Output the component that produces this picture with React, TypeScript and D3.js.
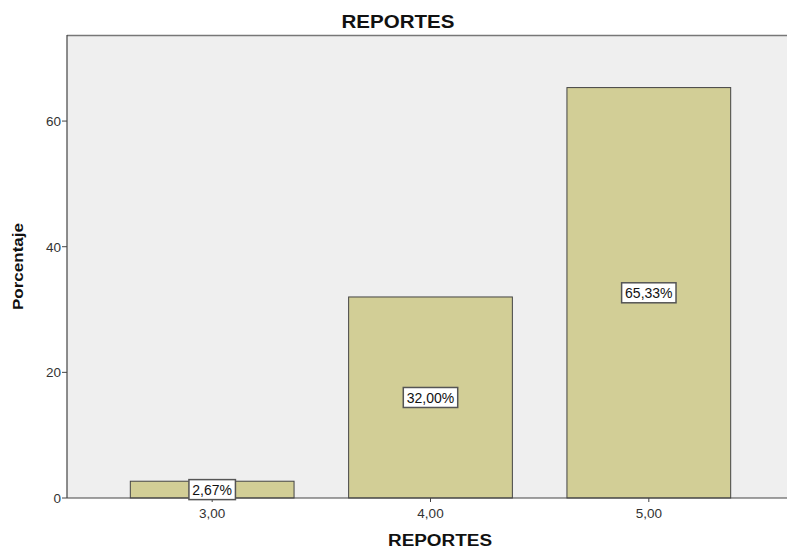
import React from "react";
import * as d3 from "d3";

const categories = ["3,00", "4,00", "5,00"];
const values = [2.67, 32.0, 65.33];
const valueLabels = ["2,67%", "32,00%", "65,33%"];
const yTicks = [0, 20, 40, 60];

const W = 787;
const H = 548;
const left = 67;
const right = 794;
const top = 35;
const bottom = 498;

export default function App() {
  const x = d3
    .scaleBand<string>()
    .domain(categories)
    .range([left, right])
    .paddingInner(0.25)
    .paddingOuter(0.29);
  const y = d3.scaleLinear().domain([0, 73.7]).range([bottom, top]);
  const font = "'Liberation Sans', Arial, sans-serif";

  return (
    <svg
      width={W}
      height={H}
      style={{ position: "absolute", left: 0, top: 0, background: "#fff" }}
      fontFamily={font}
    >
      <rect x={left} y={top} width={right - left} height={bottom - top} fill="#EFEFEF" />
      <line x1={left} x2={W} y1={top + 0.5} y2={top + 0.5} stroke="#777" strokeWidth={1.5} />
      {values.map((v, i) => (
        <rect
          key={i}
          x={x(categories[i])!}
          y={y(v)}
          width={x.bandwidth()}
          height={bottom - y(v)}
          fill="#D2CE96"
          stroke="#444"
          strokeWidth={1}
        />
      ))}
      <line x1={left} x2={W} y1={bottom} y2={bottom} stroke="#444" strokeWidth={1.2} />
      <line x1={left} x2={left} y1={top} y2={bottom} stroke="#444" strokeWidth={1.2} />
      {yTicks.map((t) => (
        <g key={t}>
          <line x1={left - 5} x2={left} y1={y(t)} y2={y(t)} stroke="#444" />
          <text x={left - 6} y={y(t)} dy="0.36em" textAnchor="end" fontSize={13.5} fill="#333">
            {t}
          </text>
        </g>
      ))}
      {categories.map((c) => {
        const cx = x(c)! + x.bandwidth() / 2;
        return (
          <g key={c}>
            <line x1={cx} x2={cx} y1={bottom} y2={bottom + 4} stroke="#444" />
            <text x={cx} y={bottom + 20} textAnchor="middle" fontSize={13.5} fill="#333">
              {c}
            </text>
          </g>
        );
      })}
      {values.map((v, i) => {
        const cx = x(categories[i])! + x.bandwidth() / 2;
        const cy = (y(v) + bottom) / 2;
        const bw = valueLabels[i].length * 7.9 + 7;
        return (
          <g key={"l" + i}>
            <rect x={cx - bw / 2} y={cy - 10} width={bw} height={20} fill="#fff" stroke="#555" strokeWidth={1.5} />
            <text x={cx} y={cy} dy="0.36em" textAnchor="middle" fontSize={14} fill="#111">
              {valueLabels[i]}
            </text>
          </g>
        );
      })}
      <text x={398} y={28} textAnchor="middle" fontSize={18} fontWeight="bold" fill="#111" textLength={113} lengthAdjust="spacingAndGlyphs">
        REPORTES
      </text>
      <text x={440} y={546} textAnchor="middle" fontSize={16} fontWeight="bold" fill="#111" textLength={104} lengthAdjust="spacingAndGlyphs">
        REPORTES
      </text>
      <text
        transform={`translate(23,${(top + bottom) / 2}) rotate(-90)`}
        textAnchor="middle"
        fontSize={15}
        fontWeight="bold"
        fill="#111"
        textLength={87}
        lengthAdjust="spacingAndGlyphs"
      >
        Porcentaje
      </text>
    </svg>
  );
}
